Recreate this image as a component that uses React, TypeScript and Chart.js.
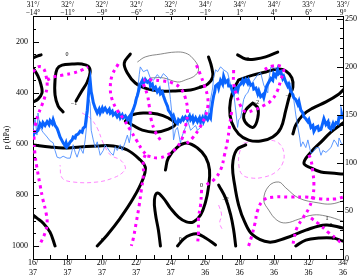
import React, { useEffect, useRef } from 'react';
import { Chart, registerables } from 'chart.js';
Chart.register(...registerables);

type P = [number, number];

// axis tick labels
const xTickValues = [16, 18, 20, 22, 24, 26, 28, 30, 32, 34];
const bottomLine1 = ['16/', '18/', '20/', '22/', '24/', '26/', '28/', '30/', '32/', '34/'];
const bottomLine2 = ['37', '37', '37', '37', '37', '36', '36', '36', '36', '36'];
const topLat = ['31°', '32°', '32°', '32°', '32°', '34°', '34°', '34°', '33°', '33°'];
const topLon = ['−14°', '−11°', '−9°', '−6°', '−3°', '−1°', '1°', '4°', '6°', '9°'];
const pTickValues = [200, 400, 600, 800, 1000];
const rightTickValues = [0, 50, 100, 150, 200, 250];

// blue series (right axis)
const thickBlue: P[] = [[16.00,127],[16.06,131],[16.17,132],[16.29,134],[16.35,137],[16.41,141],[16.52,138],[16.58,142],[16.70,139],[16.82,143],[16.93,140],[16.99,144],[17.11,141],[17.17,145],[17.28,139],[17.40,136],[17.46,133],[17.57,127],[17.69,123],[17.75,121],[17.86,118],[17.92,121],[17.98,117],[18.10,120],[18.16,122],[18.27,124],[18.33,127],[18.45,126],[18.50,129],[18.62,130],[18.74,133],[18.85,132],[18.91,136],[19.03,138],[19.09,147],[19.15,155],[19.20,166],[19.26,180],[19.32,186],[19.38,174],[19.43,170],[19.50,163],[19.61,157],[19.73,152],[19.84,156],[19.90,152],[20.02,157],[20.08,154],[20.19,157],[20.31,153],[20.43,156],[20.49,152],[20.60,154],[20.66,150],[20.78,152],[20.89,148],[21.01,151],[21.07,147],[21.18,150],[21.24,147],[21.36,149],[21.48,145],[21.59,148],[21.65,144],[21.71,151],[21.83,156],[21.94,162],[22.00,167],[22.06,170],[22.17,178],[22.23,182],[22.35,186],[22.41,182],[22.52,187],[22.64,184],[22.76,186],[22.82,180],[22.93,182],[22.99,177],[23.11,179],[23.22,174],[23.34,177],[23.40,172],[23.51,174],[23.57,170],[23.69,164],[23.81,159],[23.86,155],[23.98,152],[24.10,147],[24.16,149],[24.27,143],[24.39,141],[24.45,145],[24.56,143],[24.68,147],[24.74,145],[24.85,148],[24.97,145],[25.09,149],[25.15,145],[25.26,148],[25.32,143],[25.44,147],[25.55,143],[25.67,147],[25.73,143],[25.84,147],[25.90,143],[26.02,148],[26.14,145],[26.25,149],[26.31,147],[26.37,157],[26.43,164],[26.49,170],[26.55,174],[26.60,180],[26.72,182],[26.78,178],[26.89,186],[27.01,182],[27.07,190],[27.18,184],[27.30,186],[27.36,180],[27.48,180],[27.59,174],[27.65,172],[27.77,178],[27.88,175],[27.94,180],[28.06,182],[28.17,186],[28.23,183],[28.35,187],[28.47,183],[28.52,186],[28.64,181],[28.76,182],[28.82,177],[28.94,178],[29.05,172],[29.11,175],[29.22,169],[29.34,171],[29.40,168],[29.51,176],[29.57,180],[29.69,184],[29.81,188],[29.92,186],[29.98,193],[30.10,190],[30.21,197],[30.27,193],[30.39,195],[30.50,188],[30.56,190],[30.68,184],[30.79,180],[30.85,182],[30.97,174],[31.09,171],[31.14,168],[31.26,166],[31.38,161],[31.44,164],[31.55,155],[31.67,152],[31.73,148],[31.84,146],[31.96,143],[32.02,145],[32.14,137],[32.25,139],[32.31,133],[32.43,137],[32.54,138],[32.60,134],[32.72,135],[32.83,142],[32.89,146],[33.01,140],[33.13,143],[33.18,137],[33.30,135],[33.42,141],[33.48,138],[33.60,142],[33.71,141],[33.77,148],[33.89,147],[33.94,150],[34.00,146]];

const thinBlue: P[] = [[16.00,134],[16.12,147],[16.23,129],[16.29,152],[16.41,137],[16.58,132],[16.82,127],[16.99,123],[17.17,121],[17.28,113],[17.40,106],[17.57,105],[17.75,107],[17.98,105],[18.16,105],[18.27,113],[18.33,119],[18.45,111],[18.56,106],[18.74,116],[18.91,110],[19.03,124],[19.15,145],[19.26,166],[19.32,162],[19.38,134],[19.50,124],[19.61,116],[19.73,122],[19.84,113],[19.90,108],[20.08,113],[20.19,119],[20.31,116],[20.49,111],[20.66,108],[20.78,117],[20.89,113],[21.07,119],[21.18,113],[21.36,122],[21.48,129],[21.59,121],[21.65,127],[21.77,150],[21.94,166],[22.06,173],[22.17,192],[22.23,200],[22.41,195],[22.64,197],[22.82,188],[22.99,186],[23.22,192],[23.40,188],[23.57,193],[23.81,189],[23.92,176],[23.98,166],[24.10,145],[24.16,124],[24.27,134],[24.39,137],[24.56,121],[24.68,129],[24.85,137],[24.97,145],[25.15,134],[25.32,137],[25.44,139],[25.55,134],[25.73,137],[25.90,147],[26.02,155],[26.14,145],[26.31,166],[26.43,178],[26.49,189],[26.60,197],[26.72,195],[26.89,200],[27.07,197],[27.30,194],[27.48,181],[27.65,173],[27.77,155],[27.88,137],[27.94,145],[28.06,147],[28.23,166],[28.35,171],[28.47,173],[28.64,181],[28.82,186],[29.05,192],[29.22,194],[29.40,181],[29.63,173],[29.69,186],[29.81,200],[29.98,199],[30.21,197],[30.39,193],[30.56,186],[30.79,184],[30.97,183],[31.14,166],[31.26,150],[31.38,137],[31.49,126],[31.55,117],[31.67,122],[31.84,116],[31.96,124],[32.14,110],[32.25,111],[32.43,116],[32.60,116],[32.72,108],[32.83,113],[33.01,111],[33.13,113],[33.30,116],[33.48,124],[33.60,121],[33.71,117],[33.77,126],[33.89,121],[34.00,119]];

// thick black contours (x, hPa)
const c1: P[] = [[16,264],[16.29,256],[16.47,252]];
const c2: P[] = [[16,303],[16.29,335],[16.47,370],[16.52,401],[16.29,425],[16,436]];
const c3: P[] = [[17.75,475],[17.46,452],[17.28,409],[17.28,350],[17.40,307],[17.69,292],[18.27,288],[18.85,288],[19.20,296],[19.32,319],[19.15,358],[18.80,397],[18.50,432]];
const c4: P[] = [[21.65,249],[21.30,284],[21.48,323],[21.94,362],[22.64,385],[23.40,393],[24.27,393],[25.15,389],[25.73,378],[26.14,366],[26.43,339],[26.37,299],[26.19,260]];
const c5: P[] = [[27.88,252],[28.35,268],[28.94,268],[29.51,260],[30.21,241]];
const c6: P[] = [[21.36,511],[21.77,487],[22.41,479],[23.22,483],[23.86,499],[24.27,522],[23.86,542],[23.11,554],[22.35,546],[21.77,526],[21.36,511]];
const c7: P[] = [[16,604],[16.99,612],[17.75,616],[18.74,612],[19.73,608],[20.66,608],[21.48,624],[22.23,663],[22.52,690],[22.41,733],[21.83,812],[21.07,890],[20.31,956],[19.73,999]];
const c8: P[] = [[16,878],[16.23,890],[16.58,909],[16.99,945],[17.28,999]];
const c9: P[] = [[23.40,999],[23.28,937],[23.11,874],[23.05,819],[23.22,792],[23.57,812],[23.98,851],[24.45,886],[24.91,905],[25.32,905],[25.73,878],[26.02,827],[26.19,769],[26.25,702],[26.02,651],[25.55,616],[24.97,597],[24.39,612],[23.86,655],[23.69,702]];
const c10: P[] = [[27.94,350],[28.76,331],[29.51,319],[30.21,307],[30.68,315],[31.03,342],[31.09,378],[30.91,409],[30.68,468],[30.39,538],[29.92,573],[29.22,589],[28.52,585],[27.94,561],[27.53,514],[27.42,460],[27.59,397],[27.94,350]];
const c11: P[] = [[28.76,440],[28.35,468],[28.23,499],[28.47,526],[28.82,534],[29.05,499],[29.05,460],[28.76,440]];
const c12: P[] = [[31.09,561],[31.26,526],[31.67,487],[32.25,460],[33.01,436],[33.77,405],[34,389]];
const c13: P[] = [[34,518],[33.30,554],[32.72,593],[32.14,632],[31.73,675],[32.14,694],[32.72,710],[33.30,714],[34,718]];
const c14: P[] = [[28.35,604],[27.82,624],[27.59,683],[27.71,761],[27.94,839],[28.29,905],[28.76,956],[29.69,984],[30.68,968],[31.84,937],[33.01,917],[34,929]];
const c15: P[] = [[31.26,999],[31.84,976],[32.60,968],[33.42,968],[34,980]];
const c16: P[] = [[24.39,999],[24.74,972],[25.15,956],[25.55,952],[26.02,968],[26.60,995]];
const c17: P[] = [[26.78,761],[27.18,812],[27.48,878],[27.65,937],[27.77,999]];

// thin black contours
const t1: P[] = [[22.06,280],[22.52,260],[23.40,249],[24.27,241],[24.85,245],[25.26,264],[25.61,303],[25.44,331],[24.85,350],[24.39,358],[23.57,342],[22.82,342]];
const t2: P[] = [[34,823],[33.30,835],[32.60,831],[31.44,812],[30.68,772],[30.27,749],[29.69,765],[29.40,819],[29.69,859],[30.16,898],[30.68,909],[31.44,894],[32.25,878],[33.01,882],[34,902]];

// magenta dashed contours
const d1: P[] = [[18.85,479],[19.32,499],[19.73,538],[20.08,597],[20.49,643],[21.07,663],[21.36,690],[21.24,710],[20.66,733],[19.73,749],[18.33,749],[17.69,733],[17.57,683]];
const d2: P[] = [[28.23,597],[28.94,589],[29.69,585],[30.27,597],[30.56,632],[30.50,675],[30.10,710],[29.40,730],[28.64,733],[28.12,718],[27.94,675],[28.00,632],[28.23,597]];
const d3: P[] = [[26.78,839],[26.95,878],[26.84,909],[27.01,937]];

// magenta dotted contours
const m1: P[] = [[16,319],[16.29,299],[16.58,303],[16.76,335],[16.82,374],[16.70,413],[16.52,448],[16.29,487],[16.12,534],[16.06,585],[16.12,643],[16.23,694],[16.41,761],[16.58,819],[16.76,870],[16.82,913],[16.70,948],[16.52,976],[16.35,999]];
const m2: P[] = [[16.82,350],[17.17,339],[17.75,331],[18.33,323],[18.85,311],[19.20,299]];
const m3: P[] = [[20.95,288],[20.60,331],[20.49,382],[20.60,428],[20.89,468],[21.30,507],[21.65,546],[22.00,585],[22.35,624],[22.64,647]];
const m4: P[] = [[22.52,643],[22.41,663],[22.41,722],[22.29,780],[22.17,839],[22.00,905],[21.83,968],[21.71,999]];
const m5: P[] = [[22.64,647],[23.28,655],[23.81,643],[24.27,620],[24.62,585],[24.85,534],[24.97,475],[24.85,421],[24.56,382],[24.10,362],[23.51,354],[22.93,350],[22.41,350]];
const m6: P[] = [[22.41,366],[22.64,409],[22.76,456],[22.87,507],[23.11,554],[23.40,585]];
const m7: P[] = [[25.49,292],[25.73,331],[25.96,374],[26.14,417],[26.14,460],[25.96,499],[25.67,538],[25.26,577],[24.85,604]];
const m8: P[] = [[28.52,999],[28.70,960],[28.88,913],[29.05,859],[29.40,819],[29.98,808],[30.97,808],[31.84,808],[32.72,815],[33.60,815],[34,808]];
const m9: P[] = [[32.02,643],[32.14,663],[32.25,710],[32.31,757],[32.25,804],[32.02,851],[31.67,890],[31.32,929],[31.14,976],[31.09,999]];
const m10: P[] = [[32.14,890],[32.60,913],[33.13,945],[33.71,976],[34,995]];
const m11: P[] = [[27.65,311],[27.65,362],[27.82,409],[28.06,452],[28.35,475],[28.82,468],[29.34,452],[29.81,432],[30.16,397],[30.39,350],[30.56,311],[30.39,296],[29.86,296],[29.40,311]];
const m12: P[] = [[27.53,475],[27.42,526],[27.30,585],[27.12,643],[26.89,702],[26.49,741],[26.02,761]];
const m13: P[] = [[25.79,780],[25.73,839],[25.61,890],[25.61,945],[25.55,995]];

// contour labels: text, x, hPa
const contourLabelText = ['0', '−1', '0', '0', '−2', '0', '0', '0', '−2', '0', '−1', '1', '−1', '0'];
const contourLabelX = [17.98, 18.38, 25.73, 28.47, 28.94, 20.02, 16.12, 25.79, 27.18, 33.30, 33.30, 33.07, 30.85, 24.55];
const contourLabelP = [252, 440, 378, 270, 436, 976, 886, 761, 819, 917, 968, 890, 409, 975];

const thickBlackSets = [c1, c2, c3, c4, c5, c6, c7, c8, c9, c10, c11, c12, c13, c14, c15, c16, c17];
const thinBlackSets = [t1, t2];
const dashedSets = [d1, d2, d3];
const dottedSets = [m1, m2, m3, m4, m5, m6, m7, m8, m9, m10, m11, m12, m13];

const SERIF = "'Liberation Serif', 'DejaVu Serif', serif";

const toXY = (pts: P[]) => pts.map(([x, y]) => ({ x, y }));

const inTicks = {
  id: 'inTicks',
  afterDraw(chart: any) {
    const ctx = chart.ctx;
    const { left, right, top, bottom } = chart.chartArea;
    const xs = chart.scales.x;
    const ys = chart.scales.y;
    const y2 = chart.scales.y2;
    ctx.save();
    ctx.strokeStyle = '#000';
    ctx.lineWidth = 1;
    ctx.beginPath();
    for (let v = 16; v <= 34; v++) {
      const px = Math.round(xs.getPixelForValue(v)) + 0.5;
      ctx.moveTo(px, bottom);
      ctx.lineTo(px, bottom - 4);
      ctx.moveTo(px, top);
      ctx.lineTo(px, top + 4);
    }
    for (let v = 150; v <= 1050; v += 50) {
      const py = Math.round(ys.getPixelForValue(v)) + 0.5;
      const len = v % 200 === 0 ? 6 : 3;
      ctx.moveTo(left, py);
      ctx.lineTo(left + len, py);
    }
    for (let v = 10; v <= 250; v += 10) {
      const py = Math.round(y2.getPixelForValue(v)) + 0.5;
      const len = v % 50 === 0 ? 6 : 3;
      ctx.moveTo(right, py);
      ctx.lineTo(right - len, py);
    }
    ctx.stroke();
    ctx.font = `6px ${SERIF}`;
    ctx.fillStyle = '#000';
    ctx.textAlign = 'center';
    ctx.textBaseline = 'middle';
    contourLabelText.forEach((t, i) => {
      ctx.fillText(t, xs.getPixelForValue(contourLabelX[i]), ys.getPixelForValue(contourLabelP[i]));
    });
    ctx.restore();
  },
};

export default function App() {
  const ref = useRef<HTMLCanvasElement | null>(null);
  useEffect(() => {
    document.body.style.margin = '0';
    const canvas = ref.current;
    if (!canvas) return;
    const datasets: any[] = [];
    dottedSets.forEach((pts) =>
      datasets.push({
        data: toXY(pts), xAxisID: 'x', yAxisID: 'y', borderColor: '#ff00ff', borderWidth: 3,
        borderDash: [3, 4], borderCapStyle: 'butt', pointRadius: 0, tension: 0.4, order: 1,
      })
    );
    datasets.push({
      data: toXY(thickBlue), xAxisID: 'x', yAxisID: 'y2', borderColor: '#0a64ff', borderWidth: 3,
      pointRadius: 0, tension: 0, order: 2,
    });
    datasets.push({
      data: toXY(thinBlue), xAxisID: 'x', yAxisID: 'y2', borderColor: '#4a8cff', borderWidth: 0.9,
      pointRadius: 0, tension: 0, order: 3,
    });
    thickBlackSets.forEach((pts) =>
      datasets.push({
        data: toXY(pts), xAxisID: 'x', yAxisID: 'y', borderColor: '#000', borderWidth: 3,
        borderCapStyle: 'round', pointRadius: 0, tension: 0.4, order: 4,
      })
    );
    thinBlackSets.forEach((pts) =>
      datasets.push({
        data: toXY(pts), xAxisID: 'x', yAxisID: 'y', borderColor: '#555', borderWidth: 0.7,
        pointRadius: 0, tension: 0.4, order: 5,
      })
    );
    dashedSets.forEach((pts) =>
      datasets.push({
        data: toXY(pts), xAxisID: 'x', yAxisID: 'y', borderColor: '#ff66ff', borderWidth: 0.8,
        borderDash: [4, 3], pointRadius: 0, tension: 0.4, order: 5,
      })
    );

    const tickFont = { family: SERIF, size: 8, lineHeight: 1.25 };
    const chart = new Chart(canvas, {
      type: 'line',
      data: { datasets },
      plugins: [inTicks],
      options: {
        responsive: false,
        animation: false,
        devicePixelRatio: 1,
        events: [],
        layout: { padding: 0 },
        plugins: { legend: { display: false }, tooltip: { enabled: false } },
        scales: {
          x: {
            type: 'linear', position: 'bottom', min: 16, max: 34,
            grid: { display: false, drawTicks: false },
            border: { display: true, color: '#000', width: 1 },
            afterBuildTicks: (s: any) => { s.ticks = xTickValues.map((v) => ({ value: v })); },
            afterFit: (s: any) => { s.height = 19; },
            ticks: {
              color: '#000', font: tickFont, padding: -1, maxRotation: 0, autoSkip: false,
              callback: (v: any) => { const i = xTickValues.indexOf(v); return [bottomLine1[i], bottomLine2[i]]; },
            },
          },
          x2: {
            type: 'linear', position: 'top', min: 16, max: 34,
            grid: { display: false, drawTicks: false },
            border: { display: true, color: '#000', width: 1 },
            afterBuildTicks: (s: any) => { s.ticks = xTickValues.map((v) => ({ value: v })); },
            afterFit: (s: any) => { s.height = 16; },
            ticks: {
              color: '#000', font: { family: SERIF, size: 7.5, lineHeight: '8px' }, padding: -1, maxRotation: 0, autoSkip: false,
              callback: (v: any) => { const i = xTickValues.indexOf(v); return [topLat[i] + '/', topLon[i]]; },
            },
          },
          y: {
            type: 'linear', position: 'left', min: 100, max: 1050, reverse: true,
            grid: { display: false, drawTicks: false },
            border: { display: true, color: '#000', width: 1 },
            afterBuildTicks: (s: any) => { s.ticks = pTickValues.map((v) => ({ value: v })); },
            afterFit: (s: any) => { s.width = 33; },
            title: { display: true, text: 'p (hPa)', color: '#000', font: { family: SERIF, size: 8 }, padding: { top: 2, bottom: 0 } },
            ticks: { color: '#000', font: tickFont, padding: 5, callback: (v: any) => String(v) },
          },
          y2: {
            type: 'linear', position: 'right', min: 0, max: 253,
            grid: { display: false, drawTicks: false },
            border: { display: true, color: '#000', width: 1 },
            afterBuildTicks: (s: any) => { s.ticks = rightTickValues.map((v) => ({ value: v })); },
            afterFit: (s: any) => { s.width = 17; },
            ticks: { color: '#000', font: tickFont, padding: 2, callback: (v: any) => String(v) },
          },
        },
      } as any,
    });
    return () => chart.destroy();
  }, []);
  return (
    <div style={{ width: 360, height: 278 }}>
      <canvas ref={ref} width={360} height={278} style={{ display: 'block' }} />
    </div>
  );
}
